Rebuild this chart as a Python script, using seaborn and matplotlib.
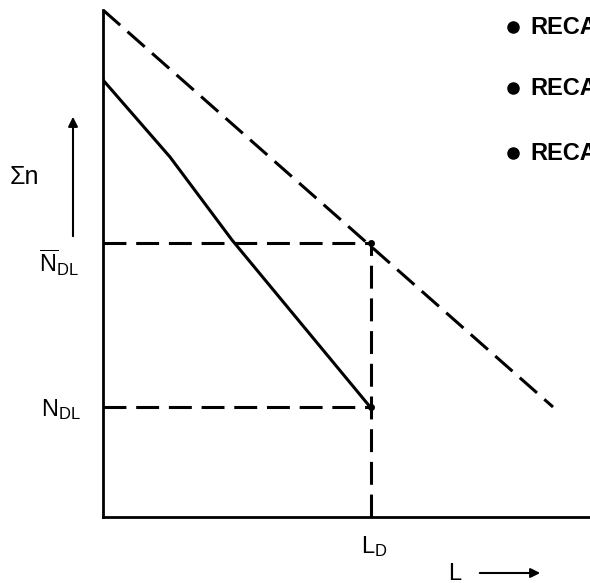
import numpy as np
import pandas as pd
import seaborn as sns
import matplotlib.pyplot as plt

# values (arbitrary units, origin at the axis corner)
upper_x = [0.0, 4.50]
upper_y = [5.07, 1.10]
solid_x = [0.0, 0.67, 1.29, 2.68]
solid_y = [4.37, 3.60, 2.77, 1.09]
L_D = 2.68
N_bar_DL = 2.74
N_DL = 1.10
legend_items = ["RECA", "RECA", "RECA"]
legend_y = [4.90, 4.29, 3.64]

sns.set_style("white")
plt.rcParams['font.family'] = ['Liberation Sans', 'DejaVu Sans']
plt.rcParams['text.color'] = 'black'
plt.rcParams['mathtext.fontset'] = 'custom'
plt.rcParams['mathtext.rm'] = 'Liberation Sans'
plt.rcParams['mathtext.it'] = 'Liberation Sans'

fig = plt.figure(figsize=(5.9, 5.83), dpi=100)
ax = fig.add_axes([103 / 590, 66 / 583, 487 / 590, 507 / 583])

dash = (7.5, 3.2)
lw = 2.2

sns.lineplot(x=upper_x, y=upper_y, ax=ax, color='black', lw=lw, sort=False,
             estimator=None, linestyle=(0, dash))
sns.lineplot(x=solid_x, y=solid_y, ax=ax, color='black', lw=lw, sort=False,
             estimator=None)

# guide lines to N_DL levels and L_D
ax.plot([0, L_D], [N_bar_DL, N_bar_DL], color='black', lw=lw, linestyle=(0, dash))
ax.plot([0, L_D], [N_DL, N_DL], color='black', lw=lw, linestyle=(0, dash))
ax.plot([L_D, L_D], [0, N_bar_DL], color='black', lw=lw, linestyle=(0, dash))
ax.plot([L_D, L_D], [N_bar_DL, N_DL], 'o', color='black', ms=4)

ax.set_xlim(0, 4.87)
ax.set_ylim(0, 5.07)
ax.set_xticks([])
ax.set_yticks([])
for s in ['top', 'right']:
    ax.spines[s].set_visible(False)
for s in ['left', 'bottom']:
    ax.spines[s].set_linewidth(2.0)
    ax.spines[s].set_color('black')

# bullet list at top right (cut off by the page edge)
for label, yy in zip(legend_items, legend_y):
    ax.plot(4.10, yy, 'o', color='black', ms=8, clip_on=False)
    ax.text(4.27, yy, label, fontsize=17, fontweight='bold',
            va='center', ha='left', clip_on=False)

# axis annotations
ax.text(-0.93, 3.40, '\u03a3n', fontsize=18, va='center', ha='left')
ax.annotate('', xy=(-0.30, 4.03), xytext=(-0.30, 2.78),
            arrowprops=dict(arrowstyle='-|>', color='black', lw=1.5,
                            mutation_scale=14),
            annotation_clip=False)
ax.text(-0.24, 2.54, r'$\overline{\mathrm{N}}_{\mathrm{DL}}$', fontsize=17,
        va='center', ha='right')
ax.text(-0.22, 1.07, r'$\mathrm{N}_{\mathrm{DL}}$', fontsize=17,
        va='center', ha='right')
ax.text(L_D + 0.03, -0.30, r'$\mathrm{L}_{\mathrm{D}}$', fontsize=17,
        va='center', ha='center')
ax.text(3.52, -0.635, 'L', fontsize=17, va='baseline', ha='center')
ax.annotate('', xy=(4.40, -0.56), xytext=(3.74, -0.56),
            arrowprops=dict(arrowstyle='-|>', color='black', lw=1.5,
                            mutation_scale=14),
            annotation_clip=False)

fig.savefig('out.png', dpi=100)
